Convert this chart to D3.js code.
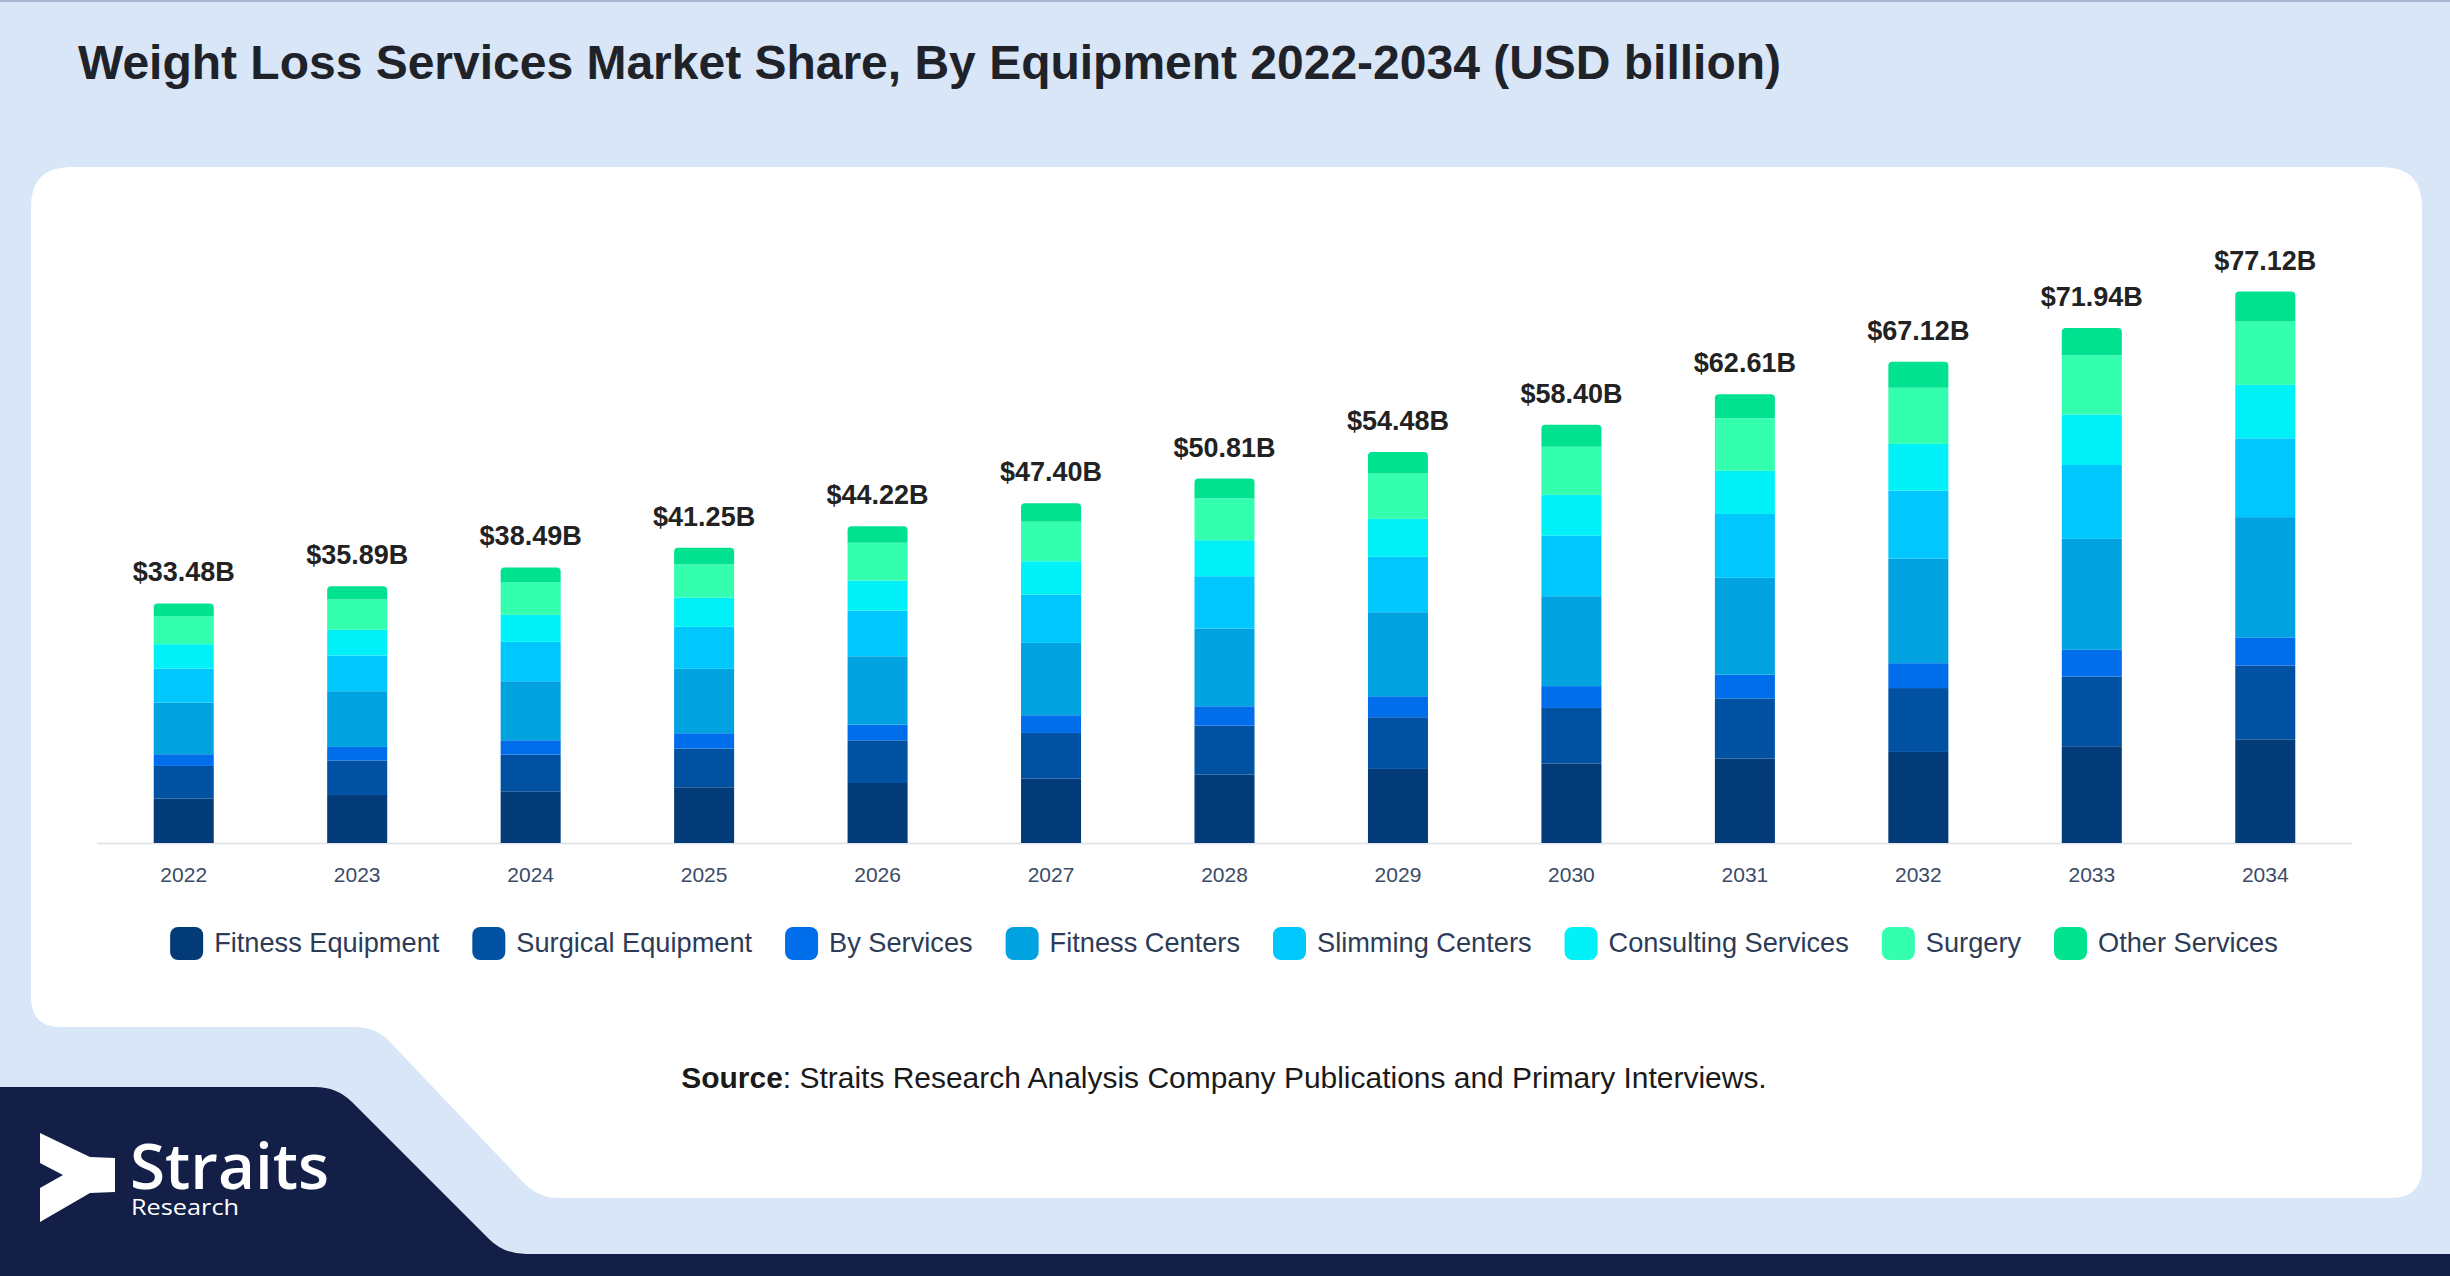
<!DOCTYPE html>
<html><head><meta charset="utf-8">
<script src="https://cdn.jsdelivr.net/npm/d3@7/dist/d3.min.js"></script>
<style>html,body{margin:0;padding:0;background:#d9e6f8;overflow:hidden}</style>
</head><body>
<svg id="c" width="2450" height="1276"></svg>
<script>
const years = ['2022','2023','2024','2025','2026','2027','2028','2029','2030','2031','2032','2033','2034'];
const totalLabels = ['$33.48B','$35.89B','$38.49B','$41.25B','$44.22B','$47.40B','$50.81B','$54.48B','$58.40B','$62.61B','$67.12B','$71.94B','$77.12B'];
const seriesNames = ['Fitness Equipment','Surgical Equipment','By Services','Fitness Centers','Slimming Centers','Consulting Services','Surgery','Other Services'];
const seriesColors = ['#023b78','#0051a2','#006deb','#00a3e0','#00c8ff','#00f2f8','#33ffae','#00e28f'];
const fitnessEquipment   = [6.19, 6.70, 7.21, 7.77, 8.37, 8.98, 9.53, 10.33, 11.10, 11.79, 12.70, 13.50, 14.46];
const surgicalEquipment  = [4.56, 4.79, 5.12, 5.40, 5.95, 6.37, 6.84, 7.21, 7.74, 8.38, 8.91, 9.71, 10.29];
const byServices         = [1.63, 1.91, 2.00, 2.14, 2.19, 2.47, 2.70, 2.93, 3.04, 3.31, 3.47, 3.74, 3.93];
const fitnessCenters     = [7.21, 7.77, 8.23, 8.98, 9.53, 10.09, 10.84, 11.72, 12.54, 13.50, 14.57, 15.47, 16.77];
const slimmingCenters    = [4.74, 4.98, 5.49, 5.86, 6.37, 6.74, 7.30, 7.72, 8.43, 8.91, 9.50, 10.30, 10.99];
const consultingServices = [3.40, 3.58, 3.77, 4.09, 4.19, 4.65, 5.02, 5.30, 5.71, 6.03, 6.51, 7.04, 7.46];
const surgery            = [3.91, 4.23, 4.56, 4.60, 5.26, 5.49, 5.81, 6.33, 6.72, 7.31, 7.84, 8.27, 8.85];
const otherServices      = [1.77, 1.86, 2.05, 2.33, 2.33, 2.60, 2.79, 2.98, 3.04, 3.36, 3.63, 3.79, 4.16];
const seriesValues = [fitnessEquipment, surgicalEquipment, byServices, fitnessCenters, slimmingCenters, consultingServices, surgery, otherServices];

const FONT = "'Liberation Sans', Arial, sans-serif";
const svg = d3.select('#c');

// background pieces
svg.append('rect').attr('width',2450).attr('height',1276).attr('fill','#d9e6f8');
svg.append('rect').attr('width',2450).attr('height',2).attr('fill','#a9b6d2');
svg.append('path')
  .attr('d','M71,167 H2382 Q2422,167 2422,207 V1167 Q2422,1198 2391,1198 H560 Q539,1198 525,1184 L389,1041 Q375,1027 355,1027 H61 Q31,1027 31,997 V207 Q31,167 71,167 Z')
  .attr('fill','#ffffff');
svg.append('path')
  .attr('d','M0,1087 H315 Q337,1087 352,1102 L489,1239 Q504,1254 526,1254 H2450 V1276 H0 Z')
  .attr('fill','#131f47');

// logo
svg.append('polygon')
  .attr('points','40,1133 90,1157 115,1158 115,1192 90,1193 40,1222 40,1188 63,1175 40,1163')
  .attr('fill','#ffffff');
svg.append('text').attr('x',130).attr('y',1189).attr('font-family',"'Open Sans', sans-serif")
  .attr('font-weight',600).attr('font-size',64).attr('fill','#ffffff')
  .attr('textLength',199).attr('lengthAdjust','spacingAndGlyphs').text('Straits');
svg.append('text').attr('x',131).attr('y',1215).attr('font-family',"'Open Sans', sans-serif")
  .attr('font-size',22).attr('fill','#ffffff')
  .attr('textLength',108).attr('lengthAdjust','spacingAndGlyphs').text('Research');

// title
svg.append('text').attr('x',78).attr('y',79).attr('font-family',FONT).attr('font-weight','bold')
  .attr('font-size',48).attr('fill','#1f2329')
  .attr('textLength',1703).attr('lengthAdjust','spacingAndGlyphs')
  .text('Weight Loss Services Market Share, By Equipment 2022-2034 (USD billion)');

// data
const rows = years.map((yr,i)=>{ const o={year:yr}; seriesNames.forEach((s,k)=>o[s]=seriesValues[k][i]); return o; });
const stacked = d3.stack().keys(seriesNames)(rows);

const x = d3.scaleBand().domain(years).range([97,2352]).paddingInner(0.654).paddingOuter(0.327);
const y = d3.scaleLinear().domain([0,80]).range([843,269.4]);
const color = d3.scaleOrdinal().domain(seriesNames).range(seriesColors);

// axis
const ax = svg.append('g').attr('transform','translate(0,843)')
  .call(d3.axisBottom(x).tickSize(0).tickSizeOuter(0).tickPadding(24));
ax.select('.domain').attr('stroke','#e2e5ea').attr('stroke-width',2);
ax.selectAll('text').attr('font-family',FONT).attr('font-size',21).attr('fill','#3b4a66');

// bars
const topIdx = seriesNames.length-1;
const r = 4;
stacked.forEach((layer,k)=>{
  const g = svg.append('g').attr('fill',color(layer.key));
  layer.forEach((d,i)=>{
    const x0 = x(years[i]), w = x.bandwidth();
    const yt = y(d[1]), yb = y(d[0]);
    if(k===topIdx){
      g.append('path').attr('d',
        `M${x0},${yb} V${yt+r} Q${x0},${yt} ${x0+r},${yt} H${x0+w-r} Q${x0+w},${yt} ${x0+w},${yt+r} V${yb} Z`);
    } else {
      g.append('rect').attr('x',x0).attr('y',yt).attr('width',w).attr('height',yb-yt);
    }
  });
});

// total labels
const totals = years.map((yr,i)=>d3.sum(seriesValues, s=>s[i]));
svg.append('g').selectAll('text').data(years).join('text')
  .attr('x',d=>x(d)+x.bandwidth()/2).attr('y',(d,i)=>y(totals[i])-22)
  .attr('text-anchor','middle').attr('font-family',FONT).attr('font-weight','bold')
  .attr('font-size',27).attr('fill','#222222').text((d,i)=>totalLabels[i]);

// legend
const lg = svg.append('g');
let cx = 0;
seriesNames.forEach((s,k)=>{
  lg.append('rect').attr('x',cx).attr('y',927).attr('width',33).attr('height',33).attr('rx',8).attr('fill',seriesColors[k]);
  const t = lg.append('text').attr('x',cx+44).attr('y',952).attr('font-family',FONT)
    .attr('font-size',27.2).attr('fill','#2d3b57').text(s);
  const w = t.node().getComputedTextLength();
  cx += 44 + w + (k<seriesNames.length-1 ? 33 : 0);
});
lg.attr('transform',`translate(${1224 - cx/2},0)`);

// source
const src = svg.append('text').attr('x',1224).attr('y',1088).attr('text-anchor','middle')
  .attr('font-family',FONT).attr('font-size',26).attr('fill','#1a1a1a');
src.append('tspan').attr('font-weight','bold').text('Source');
src.append('tspan').text(': Straits Research Analysis Company Publications and Primary Interviews.');
const sw = src.node().getComputedTextLength();
src.attr('font-size', 26*1086/sw);
</script>
</body></html>
